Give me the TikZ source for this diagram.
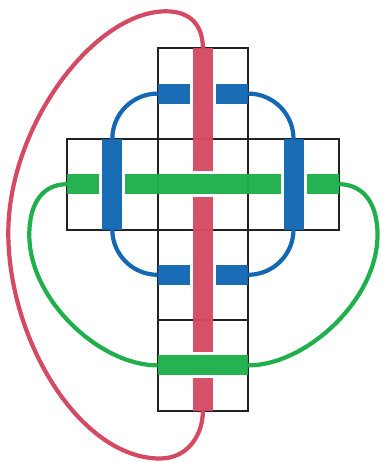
\documentclass[tikz,border=0pt]{standalone}
\usetikzlibrary{calc}
\definecolor{kred}{HTML}{D44A63}
\definecolor{kblue}{HTML}{1367B3}
\definecolor{kgreen}{HTML}{20B04B}
\definecolor{kgrid}{HTML}{222222}
\begin{document}
\begin{tikzpicture}[x=1pt,y=-1pt,
  cell/.style={rectangle,draw=kgrid,line width=2pt,minimum size=90.6pt,inner sep=0pt,outer sep=0pt},
  bar/.style={line width=20pt,line cap=butt,opacity=0.97},
  link/.style={line width=4.2pt,line cap=butt}]
\useasboundingbox (0,0) rectangle (380,462);
% grid cells
\node[cell] (top)   at (202.9,93.6)  {};
\node[cell] (left)  at (112.3,184.2) {};
\node[cell] (mid)   at (202.9,184.2) {};
\node[cell] (right) at (293.5,184.2) {};
\node[cell] (low)   at (202.9,274.8) {};
\node[cell] (base)  at (202.9,365.4) {};
% waypoints of the outer strands
\coordinate (gl) at (29.3,235);
\coordinate (gr) at (377.5,235);
\coordinate (rt) at (166,11.3);
\coordinate (rl) at (8.3,233);
\coordinate (rb) at (160,458.5);
% blue links
\draw[link,kblue] (top.west) .. controls +(-25,0) and +(0,-25) .. (left.north);
\draw[link,kblue] (top.east) .. controls +(25,0) and +(0,-25) .. (right.north);
\draw[link,kblue] (left.south) .. controls +(0,25) and +(-25,0) .. (low.west);
\draw[link,kblue] (right.south) .. controls +(0,25) and +(25,0) .. (low.east);
% green links
\draw[link,kgreen] (left.west) .. controls +(-22,0) and +(0,-35) .. (gl)
  .. controls +(0,65) and +(-57.6,0) .. (base.west);
\draw[link,kgreen] (right.east) .. controls +(22,0) and +(0,-35) .. (gr)
  .. controls +(0,65) and +(57.6,0) .. (base.east);
% red link
\draw[link,kred] (top.north) .. controls +(0,-23.3) and +(24,0) .. (rt)
  .. controls +(-71,0) and +(0,-108) .. (rl)
  .. controls +(0,107) and +(-80,0) .. (rb)
  .. controls +(28,0) and +(0,24) .. (base.south);
% red bar
\draw[bar,kred] (top.north) -- ($(mid.center)+(0,-13)$);
\draw[bar,kred] ($(mid.center)+(0,13)$) -- ($(base.center)+(0,-13)$);
\draw[bar,kred] ($(base.center)+(0,13)$) -- (base.south);
% green bars
\draw[bar,kgreen] (left.west) -- ($(left.center)+(-13,0)$);
\draw[bar,kgreen] ($(left.center)+(13,0)$) -- ($(right.center)+(-13,0)$);
\draw[bar,kgreen] ($(right.center)+(13,0)$) -- (right.east);
\draw[bar,kgreen] (base.west) -- (base.east);
% blue bars
\draw[bar,kblue] (left.north) -- (left.south);
\draw[bar,kblue] (right.north) -- (right.south);
\draw[bar,kblue] (top.west) -- ($(top.center)+(-13,0)$);
\draw[bar,kblue] ($(top.center)+(13,0)$) -- (top.east);
\draw[bar,kblue] (low.west) -- ($(low.center)+(-13,0)$);
\draw[bar,kblue] ($(low.center)+(13,0)$) -- (low.east);
\end{tikzpicture}
\end{document}
